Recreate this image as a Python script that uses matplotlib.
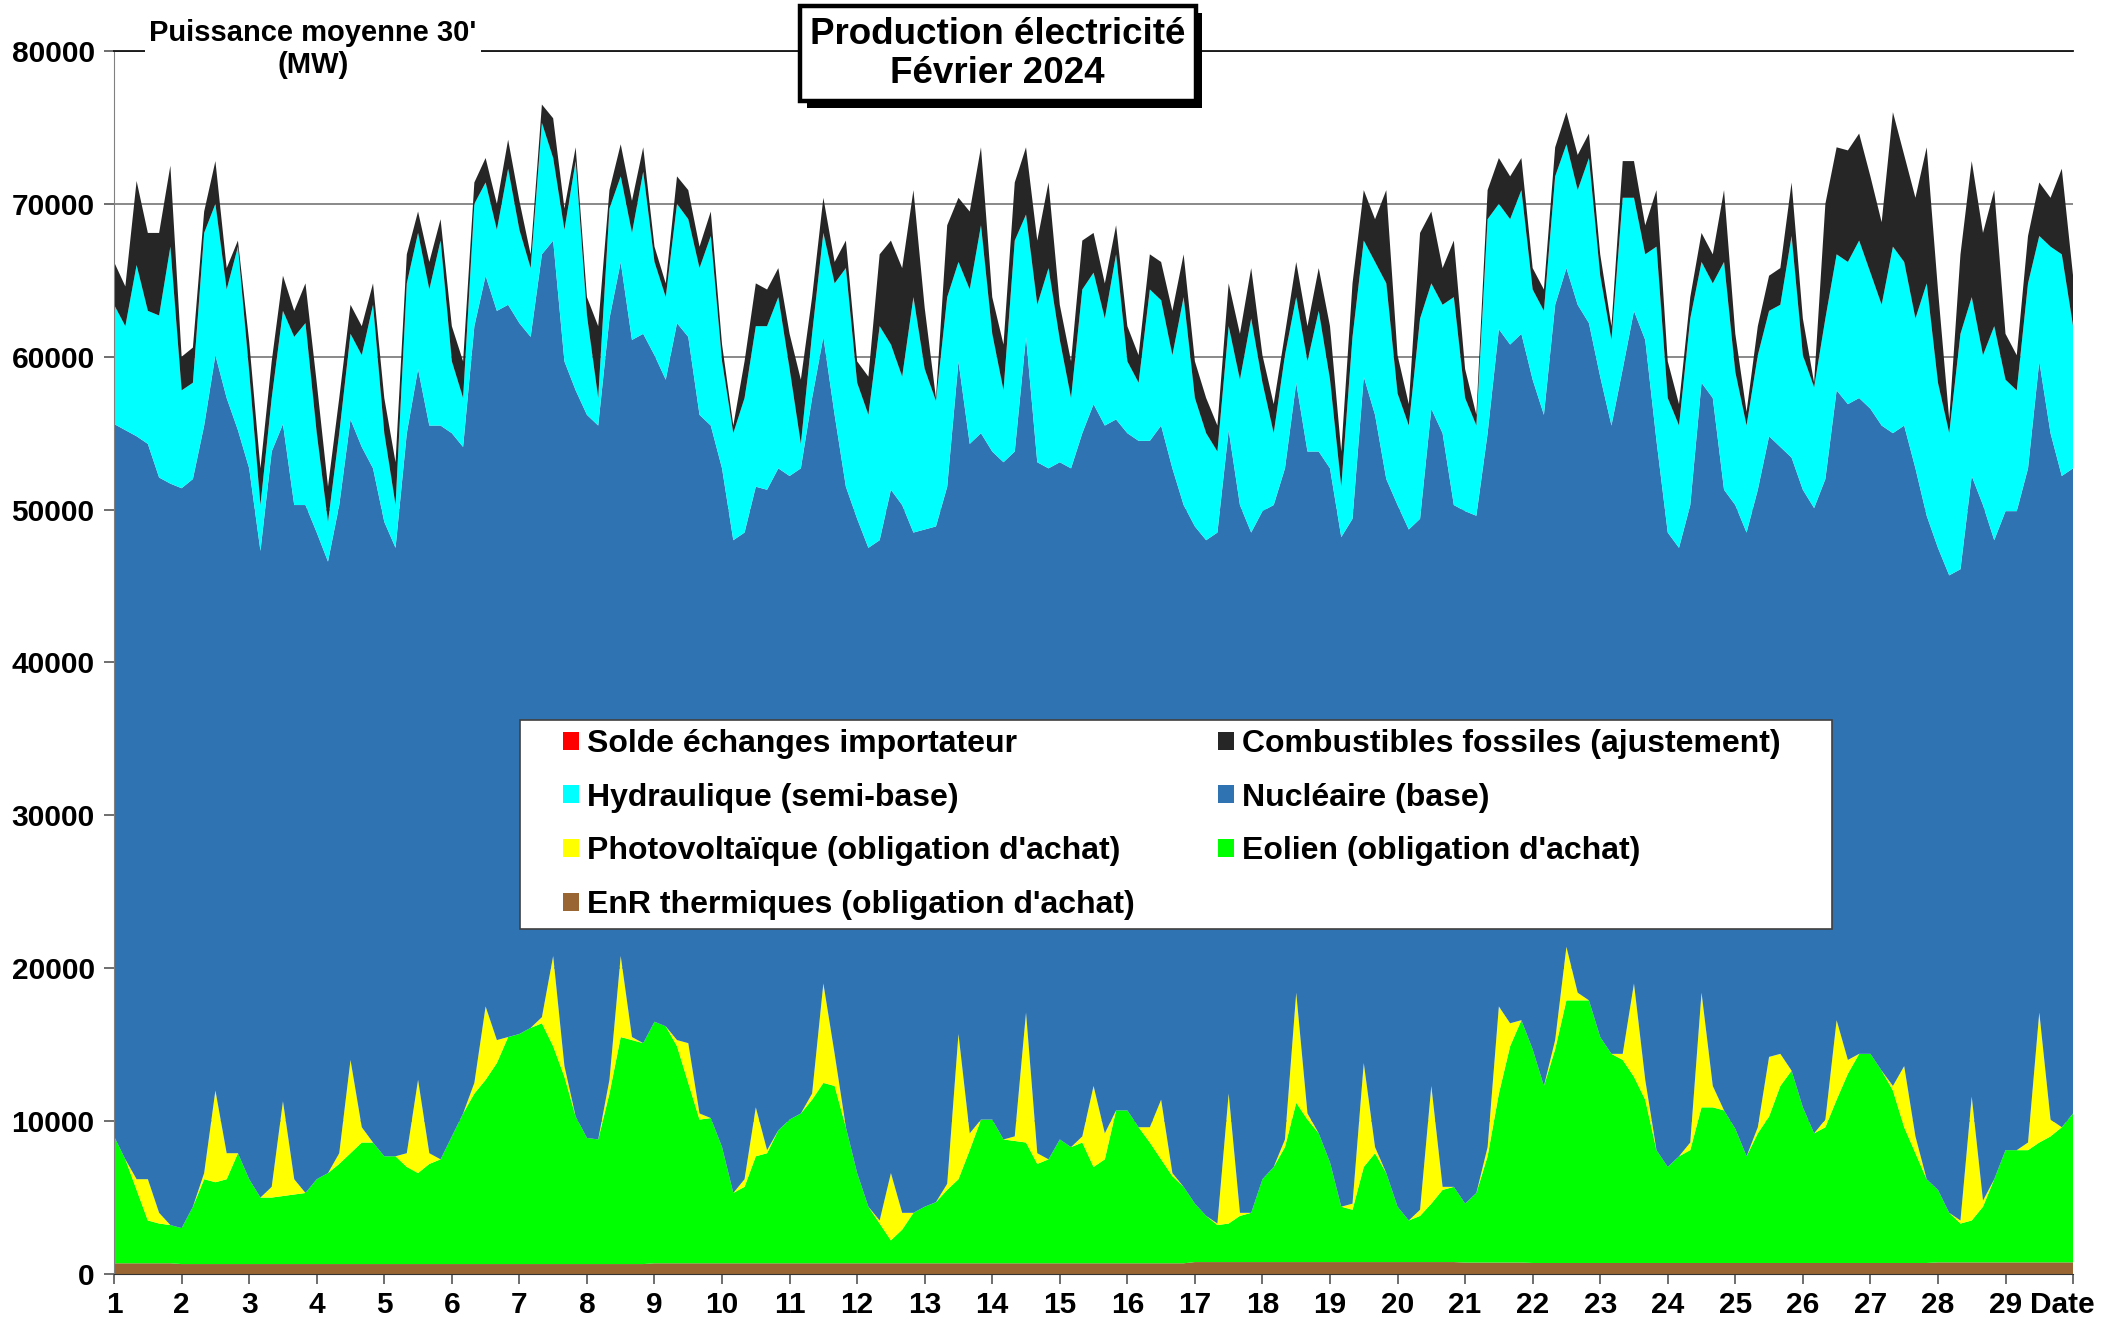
import numpy as np
import matplotlib.pyplot as plt
import matplotlib.patheffects as pe
from matplotlib.patches import Patch, Rectangle
from matplotlib.transforms import ScaledTranslation

plt.rcParams['font.family'] = ['Liberation Sans', 'DejaVu Sans']
plt.rcParams['font.weight'] = 'bold'

# levels every 4 hours (0h, 4h, 8h, 12h, 16h, 20h), MW,
# cumulative tops of each layer; last value = 1 March 0h
wind_top = [
    9000, 7500, 5500, 3500, 3300, 3200,
    3000, 4400, 6200, 6000, 6200, 7900,
    6200, 5000, 5000, 5100, 5200, 5300,
    6200, 6600, 7200, 7900, 8600, 8600,
    7700, 7700, 7000, 6600, 7200, 7500,
    9000, 10500, 11800, 12700, 13800, 15500,
    15700, 16100, 16400, 14900, 12900, 10300,
    8900, 8800, 11800, 15500, 15300, 15100,
    16500, 16200, 14900, 12500, 10100, 10200,
    8300, 5300, 5700, 7700, 7900, 9400,
    10100, 10500, 11400, 12500, 12300, 9600,
    6600, 4400, 3300, 2200, 2900, 4000,
    4400, 4700, 5500, 6200, 8100, 10100,
    10100, 8800, 8700, 8600, 7200, 7500,
    8800, 8300, 8600, 7000, 7500, 10700,
    10700, 9600, 8600, 7500, 6400, 5700,
    4600, 3800, 3200, 3300, 3800, 4000,
    6200, 7000, 8300, 11200, 10100, 9200,
    7300, 4400, 4200, 7000, 7900, 6600,
    4400, 3500, 3800, 4600, 5500, 5700,
    4600, 5300, 7700, 11800, 14900, 16600,
    14700, 12300, 14700, 17900, 17900, 17900,
    15500, 14400, 14000, 12900, 11400, 8100,
    7000, 7700, 8100, 10900, 10900, 10700,
    9500, 7700, 9200, 10300, 12300, 13300,
    10900, 9200, 9600, 11400, 13100, 14400,
    14400, 13300, 12000, 9600, 7900, 6200,
    5500, 4000, 3300, 3500, 4400, 6200,
    8100, 8100, 8100, 8600, 9000, 9600,
    10500]

pv_top = [
    9000, 7500, 6200, 6200, 4000, 3200,
    3000, 4400, 6600, 12000, 7900, 7900,
    6200, 5000, 5700, 11300, 6200, 5300,
    6200, 6600, 7900, 14000, 9600, 8600,
    7700, 7700, 7900, 12700, 7900, 7500,
    9000, 10500, 12500, 17500, 15300, 15500,
    15700, 16100, 16800, 20800, 13600, 10300,
    8900, 8800, 12700, 20800, 15500, 15100,
    16500, 16200, 15300, 15100, 10500, 10200,
    8300, 5300, 6200, 10900, 8100, 9400,
    10100, 10500, 11800, 19000, 14400, 9600,
    6600, 4400, 3500, 6600, 4000, 4000,
    4400, 4700, 5900, 15700, 9200, 10100,
    10100, 8800, 9000, 17100, 7900, 7500,
    8800, 8300, 9000, 12300, 9200, 10700,
    10700, 9600, 9600, 11400, 6600, 5700,
    4600, 3800, 3300, 11800, 4000, 4000,
    6200, 7000, 8800, 18400, 10500, 9200,
    7300, 4400, 4600, 13800, 8300, 6600,
    4400, 3500, 4200, 12300, 5700, 5700,
    4600, 5300, 8300, 17500, 16400, 16600,
    14700, 12300, 15300, 21400, 18400, 17900,
    15500, 14400, 14400, 19000, 12700, 8100,
    7000, 7700, 8600, 18400, 12300, 10700,
    9500, 7700, 9600, 14200, 14400, 13300,
    10900, 9200, 10100, 16600, 14000, 14400,
    14400, 13300, 12300, 13600, 9000, 6200,
    5500, 4000, 3500, 11600, 4800, 6200,
    8100, 8100, 8600, 17100, 10100, 9600,
    10500]

nuclear_top = [
    55600, 55200, 54800, 54300, 52100, 51700,
    51400, 52000, 55500, 60100, 57300, 55200,
    52700, 47300, 53800, 55600, 50300, 50300,
    48500, 46600, 50300, 55900, 54100, 52700,
    49200, 47500, 55000, 59200, 55500, 55500,
    55000, 54100, 62000, 65300, 63000, 63400,
    62200, 61300, 66700, 67600, 59700, 57800,
    56200, 55500, 62500, 66200, 61100, 61500,
    60100, 58500, 62200, 61300, 56200, 55500,
    52700, 48000, 48500, 51500, 51300, 52700,
    52200, 52700, 57300, 61300, 56200, 51500,
    49400, 47500, 48000, 51300, 50300, 48500,
    48700, 48900, 51500, 59700, 54300, 55000,
    53800, 53100, 53800, 61300, 53100, 52700,
    53100, 52700, 55000, 56900, 55500, 55900,
    55000, 54500, 54500, 55500, 52700, 50300,
    48900, 48000, 48500, 55200, 50300, 48500,
    49900, 50300, 52700, 58300, 53800, 53800,
    52700, 48200, 49400, 58700, 56200, 52000,
    50300, 48700, 49400, 56600, 55000, 50300,
    49900, 49600, 55000, 61800, 60800, 61500,
    58500, 56200, 63400, 65800, 63400, 62200,
    58700, 55500, 59200, 63000, 61100, 54500,
    48500, 47500, 50300, 58300, 57300, 51300,
    50300, 48500, 51300, 54800, 54100, 53400,
    51300, 50100, 52000, 57800, 56900, 57300,
    56600, 55500, 55000, 55500, 52700, 49600,
    47500, 45700, 46100, 52200, 50300, 48000,
    49900, 49900, 52700, 59700, 55000, 52200,
    52700]

hydro_top = [
    63400, 62000, 66000, 63000, 62700, 67200,
    57800, 58300, 68100, 70000, 64400, 67200,
    59000, 50300, 57300, 63000, 61300, 62200,
    55000, 49200, 55000, 61500, 60100, 63400,
    55000, 50300, 64800, 68100, 64400, 67600,
    59700, 57300, 70000, 71400, 68300, 72300,
    68300, 65800, 75300, 73000, 68300, 72800,
    62700, 57300, 69700, 71800, 68100, 72100,
    66200, 63900, 70000, 69000, 65800, 67900,
    59700, 55000, 57300, 62000, 62000, 63900,
    59200, 54300, 61500, 68100, 64800, 65800,
    58300, 56200, 62000, 60800, 58700, 63900,
    59200, 57100, 63900, 66200, 64400, 68600,
    61500, 57800, 67600, 69300, 63400, 65800,
    61100, 57300, 64400, 65500, 62500, 66700,
    59700, 58300, 64400, 63700, 60100, 63900,
    57300, 55000, 53800, 62000, 58500, 62500,
    58300, 55000, 60100, 63900, 59700, 63000,
    58500, 51500, 61300, 67600, 66200, 64800,
    57600, 55500, 62500, 64800, 63400, 63900,
    57300, 55500, 69000, 70000, 69000, 70900,
    64400, 63000, 71800, 73900, 70900, 73000,
    65300, 61100, 70400, 70400, 66700, 67200,
    57300, 55500, 62500, 66200, 64800, 66200,
    59000, 55500, 60100, 63000, 63400, 67900,
    60100, 58000, 62500, 66700, 66200, 67600,
    65500, 63400, 67200, 66200, 62500, 64800,
    58300, 55000, 61500, 63900, 60100, 62000,
    58500, 57800, 64800, 67900, 67200, 66700,
    62000]

fossil_top = [
    66200, 64600, 71500, 68100, 68100, 72500,
    60000, 60600, 69500, 72800, 65800, 67600,
    61000, 52700, 59700, 65300, 63000, 64800,
    58300, 51500, 57300, 63400, 62000, 64800,
    57300, 53100, 66700, 69500, 66200, 69000,
    62000, 59700, 71400, 73000, 70000, 74200,
    70200, 66700, 76500, 75600, 69700, 73700,
    63900, 62000, 70900, 73900, 70200, 73700,
    67200, 64800, 71800, 70900, 67200, 69500,
    60800, 55500, 59700, 64800, 64400, 65800,
    61500, 58500, 63900, 70400, 66200, 67600,
    59700, 58700, 66700, 67600, 65800, 70900,
    63200, 57300, 68600, 70400, 69500, 73700,
    63900, 60800, 71400, 73700, 67600, 71400,
    63400, 59700, 67600, 68100, 64800, 68600,
    62000, 60100, 66700, 66200, 63000, 66700,
    59700, 57300, 55500, 64800, 61500, 65800,
    60100, 56900, 61500, 66200, 62000, 65800,
    62000, 53800, 64800, 70900, 69000, 70900,
    60100, 56900, 68100, 69500, 65800, 67600,
    59200, 56200, 70900, 73000, 71800, 73000,
    65800, 64400, 73700, 76000, 73200, 74600,
    66700, 62000, 72800, 72800, 68600, 70900,
    59700, 56900, 63900, 68100, 66700, 70900,
    61500, 56400, 62000, 65300, 65800, 71400,
    62500, 58300, 70000, 73700, 73500, 74600,
    71800, 68800, 76000, 73200, 70400, 73700,
    64400, 55900, 66700, 72800, 68100, 70900,
    61500, 60100, 67900, 71400, 70400, 72300,
    65300]

# EnR thermiques, roughly flat, one reading per day
thermal_day = [700, 650, 650, 650, 650, 650, 650, 650, 700, 700, 700, 700,
               700, 700, 700, 700, 780, 780, 780, 780, 750, 720, 720, 720,
               720, 720, 720, 760, 760]

labels = ["Solde échanges importateur", "Hydraulique (semi-base)",
          "Photovoltaïque (obligation d'achat)", "EnR thermiques (obligation d'achat)",
          "Combustibles fossiles (ajustement)", "Nucléaire (base)",
          "Eolien (obligation d'achat)"]
colors = {'solde': '#ff0000', 'hydro': '#00ffff', 'pv': '#ffff00',
          'thermal': '#996633', 'fossil': '#262626', 'nuclear': '#2f73b3',
          'wind': '#00ff00'}

t = 1 + np.arange(len(wind_top)) / 6.0
thermal = np.append(np.repeat(thermal_day, 6), thermal_day[-1])
wind = np.array(wind_top) - thermal
pv = np.array(pv_top) - np.array(wind_top)
nuclear = np.array(nuclear_top) - np.array(pv_top)
hydro = np.array(hydro_top) - np.array(nuclear_top)
fossil = np.array(fossil_top) - np.array(hydro_top)

fig = plt.figure(figsize=(21.01, 13.25), dpi=100)
ax = fig.add_axes([0.0543, 0.0385, 0.9324, 0.923])

ax.stackplot(t, thermal, wind, pv, nuclear, hydro, fossil,
             colors=[colors['thermal'], colors['wind'], colors['pv'],
                     colors['nuclear'], colors['hydro'], colors['fossil']],
             linewidth=0)

ax.set_xlim(1, 30)
ax.set_ylim(0, 80000)
ax.set_yticks(np.arange(0, 80001, 10000))
ax.set_xticks(np.arange(1, 31))
ax.set_xticklabels([str(d) for d in range(1, 30)] + ['Date'])
ax.tick_params(axis='both', labelsize=21.5, length=7, width=1.2, color='#555555')
ax.tick_params(axis='x', pad=5)
ax.tick_params(axis='y', pad=7)
# "Date" sits under the end of the axis, pulled in slightly so it stays on the canvas
date_lbl = ax.get_xticklabels()[-1]
date_lbl.set_transform(date_lbl.get_transform() + ScaledTranslation(-8 / 72, 0, fig.dpi_scale_trans))
ax.grid(axis='y', color='#808080', linewidth=1.3)
ax.set_axisbelow(True)
ax.spines['right'].set_visible(False)
ax.spines['left'].set_color('#808080')
ax.spines['bottom'].set_color('#333333')
ax.spines['top'].set_color('#111111')
ax.spines['top'].set_linewidth(1.3)

# legend box drawn separately so its margins match the original
ax.add_patch(Rectangle((0.2073, 0.2824), 0.6697, 0.1709, transform=ax.transAxes,
                       facecolor='white', edgecolor='#404040', linewidth=1.2, zorder=4))
handles = [Patch(facecolor=colors[k], edgecolor='none')
           for k in ['solde', 'hydro', 'pv', 'thermal', 'fossil', 'nuclear', 'wind']]
leg = ax.legend(handles, labels, ncol=2, loc='upper left',
                bbox_to_anchor=(0.2292, 0.4456), frameon=False,
                prop={'size': 23, 'weight': 'bold'}, borderpad=0, borderaxespad=0,
                handlelength=0.5, handleheight=0.5, handletextpad=0.25,
                labelspacing=0.74, columnspacing=2.6)
leg.set_zorder(5)

fig.text(0.149, 0.963, "Puissance moyenne 30'\n(MW)", ha='center', va='center',
         fontsize=21, fontweight='bold', linespacing=1.15,
         bbox=dict(boxstyle='square,pad=0.15', fc='white', ec='none'))

title = fig.text(0.4748, 0.9595, "Production électricité\nFévrier 2024", ha='center',
                 va='center', fontsize=26.5, fontweight='bold', linespacing=1.15,
                 bbox=dict(boxstyle='square,pad=0.28', fc='white', ec='black', lw=3.2))
title.get_bbox_patch().set_path_effects(
    [pe.SimplePatchShadow(offset=(5, -5), shadow_rgbFace='black', alpha=1.0), pe.Normal()])

fig.savefig('out.png', dpi=100)
